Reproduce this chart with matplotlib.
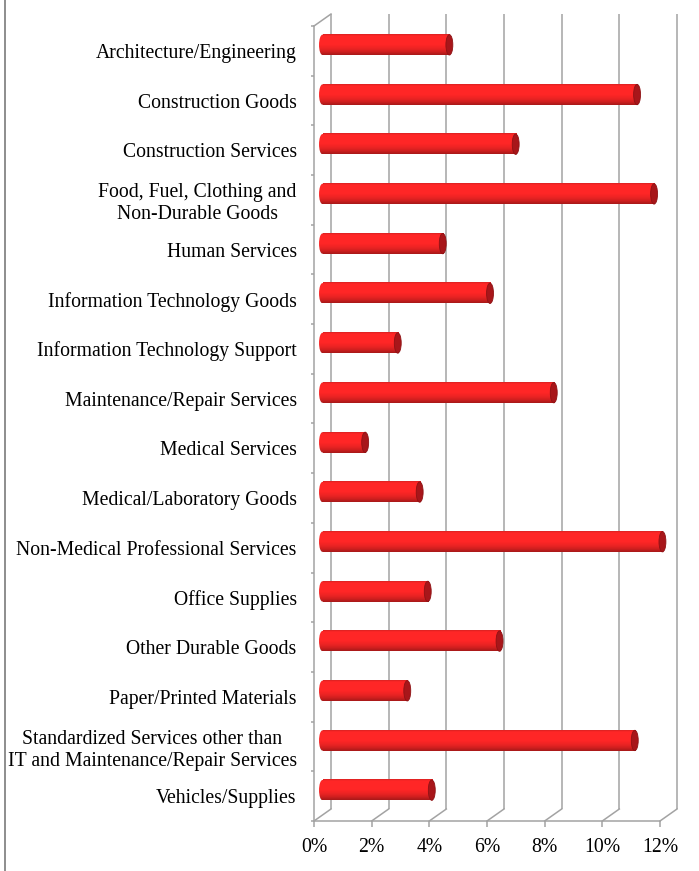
import numpy as np
import matplotlib
matplotlib.use("Agg")
import matplotlib.pyplot as plt
from matplotlib.patches import Ellipse
from matplotlib.lines import Line2D
from matplotlib.transforms import ScaledTranslation

plt.rcParams['font.family'] = ['Liberation Serif', 'DejaVu Serif']

# Share of spend by commodity category (%)
categories = [
    "Architecture/Engineering",
    "Construction Goods",
    "Construction Services",
    "Food, Fuel, Clothing and\nNon-Durable Goods",
    "Human Services",
    "Information Technology Goods",
    "Information Technology Support",
    "Maintenance/Repair Services",
    "Medical Services",
    "Medical/Laboratory Goods",
    "Non-Medical Professional Services",
    "Office Supplies",
    "Other Durable Goods",
    "Paper/Printed Materials",
    "Standardized Services other than\nIT and Maintenance/Repair Services",
    "Vehicles/Supplies",
]
shares = [4.40, 10.91, 6.70, 11.50, 4.17, 5.81, 2.61, 8.02,
          1.48, 3.37, 11.79, 3.65, 6.14, 2.94, 10.83, 3.79]
pct_ticks = [0, 2, 4, 6, 8, 10, 12]

grid_col = '#a3a3a3'
n = len(categories)

fig = plt.figure(figsize=(6.99, 8.71), dpi=100)
ax = fig.add_axes([314 / 699, 50 / 871, 346 / 699, 795 / 871])
ax.set_xlim(0, 12)
ax.set_ylim(n - 0.5, -0.5)

# depth offsets for the pseudo-3D look (back wall and bar middle plane)
back = ax.transData + ScaledTranslation(0.17, 0.12, fig.dpi_scale_trans)
mid = ax.transData + ScaledTranslation(0.085, 0.06, fig.dpi_scale_trans)


def to_back(x, y):
    return ax.transData.inverted().transform(back.transform((x, y)))


# back wall gridlines
ax.vlines(pct_ticks, n - 0.5, -0.5, colors=grid_col, lw=1.1,
          transform=back, zorder=1, clip_on=False)

# floor diagonals and top of side wall
for x in pct_ticks:
    bx, by = to_back(x, n - 0.5)
    ax.plot([x, bx], [n - 0.5, by], color=grid_col, lw=1.1,
            clip_on=False, zorder=1)
tx, ty = to_back(0, -0.5)
ax.plot([0, tx], [-0.5, ty], color=grid_col, lw=1.1, clip_on=False, zorder=1)

# cylinder shading, top to bottom
t = np.linspace(0, 1, 40)
f = np.interp(t, [0, 0.07, 0.5, 0.7, 0.85, 1.0], [0.86, 1.0, 1.0, 0.92, 0.82, 0.66])
base = np.array([1.0, 0.15, 0.15])
grad = (f[:, None] * base[None, :])[:, None, :]

half_h = 0.205
ew = 0.24
for i, v in enumerate(shares):
    body = ax.imshow(grad, extent=[0, v, i + half_h, i - half_h],
                     aspect='auto', transform=mid, zorder=3,
                     interpolation='bilinear')
    body.set_clip_on(False)
    left_cap = Ellipse((0, i), ew, 2 * half_h, transform=mid,
                       facecolor='none', edgecolor='none')
    ax.add_patch(left_cap)
    end = ax.imshow(grad, extent=[-ew / 2, ew / 2, i + half_h, i - half_h],
                    aspect='auto', transform=mid, zorder=3,
                    interpolation='bilinear')
    end.set_clip_path(left_cap)
    ax.add_patch(Ellipse((v, i), ew, 2 * half_h, transform=mid,
                         facecolor='#a8161a', edgecolor='#8e1214',
                         lw=0.6, zorder=4, clip_on=False))

ax.set_xlim(0, 12)
ax.set_ylim(n - 0.5, -0.5)

# axes lines and ticks
for side in ['top', 'right']:
    ax.spines[side].set_visible(False)
for side in ['left', 'bottom']:
    ax.spines[side].set_color(grid_col)
    ax.spines[side].set_linewidth(1.1)
    ax.spines[side].set_zorder(2)

ax.set_xticks(pct_ticks, labels=[f"{p}%" for p in pct_ticks])
ax.tick_params(axis='x', length=4, width=1.1, color=grid_col,
               labelsize=14.2, pad=8)

ax.set_yticks(np.arange(-0.5, n, 1))
ax.tick_params(axis='y', which='major', length=2.5, width=1.1,
               color=grid_col, labelleft=False)
ax.set_yticks(np.arange(n), labels=categories, minor=True)
ax.tick_params(axis='y', which='minor', length=0, pad=12.5, labelsize=14.2)
for lbl in ax.get_yticklabels(minor=True):
    lbl.set_multialignment('center')

ax.patch.set_alpha(0)

# left page border
fig.add_artist(Line2D([4.5 / 699, 4.5 / 699], [0, 1], transform=fig.transFigure,
                      color='#7a7a7a', lw=1.2))

fig.savefig('out.png', dpi=100)
